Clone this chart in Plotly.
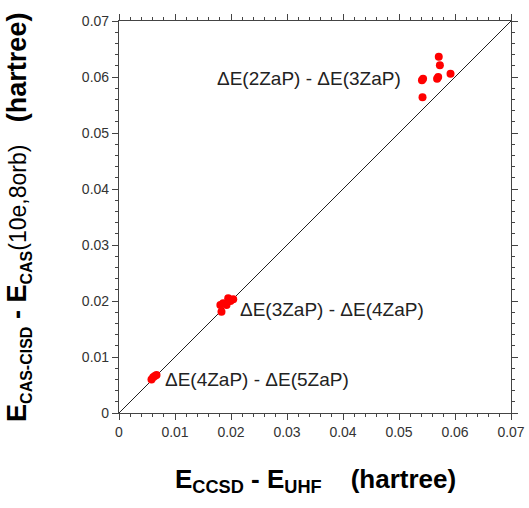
import plotly.graph_objects as go

# Data (hartree)
x_2z3z = [0.0543, 0.0542, 0.0571, 0.0573, 0.0570, 0.0568, 0.0592, 0.0541]
y_2z3z = [0.0597, 0.0564, 0.0636, 0.0621, 0.0600, 0.0597, 0.0606, 0.0594]
x_3z4z = [0.0183, 0.0186, 0.0195, 0.0204, 0.0192, 0.0181, 0.0199]
y_3z4z = [0.0181, 0.0196, 0.0205, 0.0203, 0.0193, 0.0193, 0.0200]
x_4z5z = [0.0061, 0.0067, 0.0058, 0.0064]
y_4z5z = [0.0064, 0.0068, 0.0060, 0.0066]
diag = [0, 0.07]
labels = ["ΔE(2ZaP) - ΔE(3ZaP)", "ΔE(3ZaP) - ΔE(4ZaP)", "ΔE(4ZaP) - ΔE(5ZaP)"]
label_x = [0.0507, 0.0212, 0.0079]
label_y = [0.0597, 0.0184, 0.0060]
label_anchor = ["right", "left", "left"]
ticks = [0, 0.01, 0.02, 0.03, 0.04, 0.05, 0.06, 0.07]
tick_text = ["0", "0.01", "0.02", "0.03", "0.04", "0.05", "0.06", "0.07"]

FONT = "Liberation Sans, Arial, sans-serif"

fig = go.Figure()
fig.add_trace(go.Scatter(x=diag, y=diag, mode="lines",
                         line=dict(color="#222", width=1), hoverinfo="skip"))
for xs, ys in [(x_2z3z, y_2z3z), (x_3z4z, y_3z4z), (x_4z5z, y_4z5z)]:
    fig.add_trace(go.Scatter(x=xs, y=ys, mode="markers",
                             marker=dict(color="#ff0000", size=8)))

for t, lx, ly, an in zip(labels, label_x, label_y, label_anchor):
    fig.add_annotation(x=lx, y=ly, text=t, showarrow=False, xanchor=an,
                       yanchor="middle", font=dict(size=19, color="#222", family=FONT))

fig.add_annotation(xref="paper", yref="paper", x=0.5, y=-0.125, yanchor="top",
                   text="<b>E<sub>CCSD</sub> - E<sub>UHF</sub>    (hartree)</b>",
                   showarrow=False,
                   font=dict(size=26, color="#000", family=FONT))
fig.add_annotation(xref="paper", yref="paper", x=-0.305, y=0.5, xanchor="left",
                   yanchor="middle", textangle=-90,
                   text=("<b>E<sub><span style='font-size:16px'>CAS-CISD</span></sub> - "
                         "E<sub><span style='font-size:16px'>CAS</span></sub></b>"
                         "<span style='font-size:23px'>(10e,8orb)</span>   <b>(hartree)</b>"),
                   showarrow=False,
                   font=dict(size=27, color="#000", family=FONT))

axis_common = dict(range=[0, 0.07], tickvals=ticks, ticktext=tick_text,
                   showgrid=False, zeroline=False, showline=True, automargin=False,
                   linecolor="#444", linewidth=1.2, mirror="allticks",
                   ticks="outside", ticklen=6, tickwidth=1, tickcolor="#444",
                   tickfont=dict(size=14, color="#333", family=FONT),
                   minor=dict(dtick=0.002, ticks="outside", ticklen=3,
                              tickwidth=1, tickcolor="#444", showgrid=False))
fig.update_xaxes(**axis_common)
fig.update_yaxes(**axis_common)

fig.update_layout(width=529, height=508, showlegend=False,
                  margin=dict(l=119, r=18, t=21, b=95),
                  plot_bgcolor="white", paper_bgcolor="white")
fig.write_html("out.html")
